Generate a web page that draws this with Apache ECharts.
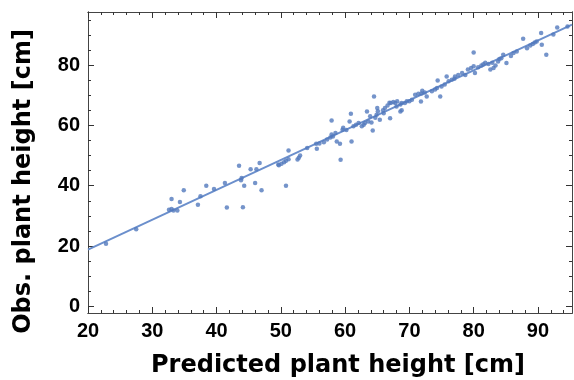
<!DOCTYPE html>
<html>
<head>
<meta charset="utf-8">
<script src="https://cdn.jsdelivr.net/npm/echarts@6/dist/echarts.min.js"></script>
<style>
  html, body { margin: 0; padding: 0; background: #fff; }
  #chart { width: 574px; height: 380px; }
</style>
</head>
<body>
<div id="chart"></div>
<script>
const predicted = [
  22.8, 27.5, 32.6, 33.0, 33.3, 33.9, 33.0, 34.3, 34.9, 37.1, 37.5, 38.4, 39.6,
  41.3, 41.6, 43.5, 43.8, 43.9, 44.1, 44.3, 45.3, 46.0, 46.2, 46.7, 47.0,
  49.6, 49.7, 50.1, 50.5, 50.8, 51.2, 50.8, 51.2, 52.6, 52.8, 53.0, 54.1,
  55.5, 55.6, 56.0, 56.7, 57.2, 57.7, 57.9, 58.1, 57.9, 58.5, 58.7, 59.2, 59.3,
  59.6, 59.7, 60.2, 60.7, 60.9, 61.0, 61.3, 61.7, 62.1, 62.6, 62.9, 63.1,
  63.4, 63.6, 63.9, 64.1, 64.3, 64.5, 64.7, 64.9, 65.1, 65.0, 65.4,
  65.9, 66.0, 66.2, 66.6, 66.9, 67.0, 67.1, 67.5, 67.8, 68.0, 68.6,
  68.8, 69.3, 69.6, 68.1, 68.6, 68.8, 70.0, 70.4, 70.9, 71.4, 71.9, 72.4,
  71.8, 72.0, 72.7, 73.5, 74.0, 74.3, 74.4, 74.8, 75.0, 75.5, 76.1, 75.8,
  76.6, 77.0, 77.1, 77.6, 78.2, 78.7, 79.1, 79.6, 80.0, 80.0, 80.2,
  80.7, 81.2, 81.5, 81.8, 82.3, 82.9, 83.4, 82.6, 83.1, 83.8, 84.0, 84.3, 84.6,
  85.1, 85.8, 86.2, 86.7, 87.7, 88.3, 88.8, 89.2, 89.5, 89.8, 90.5, 90.6,
  91.3, 92.4, 93.0, 94.6
];
const observed = [
  20.8, 25.6, 32.0, 32.3, 31.8, 31.8, 35.6, 34.6, 38.5, 33.7, 36.5, 40.0, 38.9,
  40.9, 32.8, 46.6, 41.8, 42.6, 32.9, 40.0, 45.5, 40.9, 45.5, 47.5, 38.5,
  47.0, 46.8, 47.3, 47.8, 48.3, 48.8, 40.0, 51.7, 48.7, 49.3, 50.0, 52.5,
  53.9, 52.3, 54.0, 54.4, 55.3, 56.0, 57.0, 56.3, 61.6, 57.5, 54.7, 53.9, 48.6,
  58.6, 59.2, 58.5, 61.3, 63.9, 54.7, 59.7, 60.2, 60.8, 59.7, 60.2, 60.8,
  64.6, 61.3, 63.0, 61.0, 58.3, 69.6, 62.5, 63.5, 64.7, 65.8, 61.9,
  65.0, 64.0, 65.8, 66.6, 67.5, 62.4, 67.4, 67.8, 67.4, 66.3, 64.6,
  67.4, 67.4, 68.0, 68.0, 66.9, 65.0, 68.0, 68.5, 70.2, 70.5, 70.6, 70.9,
  67.9, 71.5, 69.6, 71.3, 71.9, 72.4, 74.9, 69.6, 72.9, 73.6, 74.6, 76.2,
  75.1, 75.5, 76.2, 76.7, 77.4, 76.7, 78.5, 79.0, 79.6, 84.2, 77.4,
  79.3, 79.9, 80.3, 80.8, 80.4, 80.8, 79.9, 78.5, 79.0, 81.2, 82.0, 82.3, 83.4,
  80.7, 83.0, 84.0, 84.5, 88.7, 85.6, 86.5, 87.0, 87.5, 87.8, 90.6, 86.7,
  83.4, 90.1, 92.5, 92.8
];
// fitted line end points
const fitX = [20, 95.3];
const fitY = [18.8, 93.4];

const xMajor = [20, 30, 40, 50, 60, 70, 80, 90];
const yMajor = [0, 20, 40, 60, 80];
const xMinor = [22, 24, 26, 28, 32, 34, 36, 38, 42, 44, 46, 48, 52, 54, 56, 58,
  62, 64, 66, 68, 72, 74, 76, 78, 82, 84, 86, 88, 92, 94];
const yMinor = [5, 10, 15, 25, 30, 35, 45, 50, 55, 65, 70, 75, 85, 90, 95];

const chart = echarts.init(document.getElementById('chart'));

const tickColor = '#333';
const labelStyle = {
  color: '#000',
  fontFamily: 'Liberation Sans',
  fontWeight: 'bold',
  fontSize: 20
};
const titleStyle = {
  color: '#000',
  fontFamily: 'DejaVu Sans',
  fontWeight: 'bold',
  fontSize: 24
};

function makeAxis(pos, min, max, ticks, len, labels, extra) {
  return Object.assign({
    type: 'value',
    position: pos,
    min: min,
    max: max,
    axisLine: { show: true, onZero: false, lineStyle: { color: '#444', width: 1 } },
    axisTick: { show: true, inside: true, length: len, customValues: ticks,
      lineStyle: { color: tickColor, width: 1 } },
    axisLabel: labels
      ? Object.assign({ show: true, customValues: ticks, margin: 8 }, labelStyle)
      : { show: false },
    splitLine: { show: false }
  }, extra || {});
}

const option = {
  animation: false,
  backgroundColor: '#fff',
  grid: { left: 88, right: 2, top: 12, bottom: 67, outerBoundsMode: 'none' },
  xAxis: [
    makeAxis('bottom', 20, 95.3, xMajor, 6, true, {
      name: 'Predicted plant height [cm]',
      nameLocation: 'middle',
      nameGap: 41,
      nameTextStyle: Object.assign({ padding: [0, 0, 0, 16] }, titleStyle)
    }),
    makeAxis('bottom', 20, 95.3, xMinor, 3, false),
    makeAxis('top', 20, 95.3, xMajor, 6, false),
    makeAxis('top', 20, 95.3, xMinor, 3, false)
  ],
  yAxis: [
    makeAxis('left', -2.2, 97.6, yMajor, 6, true, {
      name: 'Obs. plant height [cm]',
      nameLocation: 'middle',
      nameGap: 52,
      nameTextStyle: Object.assign({ padding: [0, 38, 0, 0] }, titleStyle)
    }),
    makeAxis('left', -2.2, 97.6, yMinor, 3, false),
    makeAxis('right', -2.2, 97.6, yMajor, 6, false),
    makeAxis('right', -2.2, 97.6, yMinor, 3, false)
  ],
  series: [
    {
      type: 'line',
      data: fitX.map((x, i) => [x, fitY[i]]),
      showSymbol: false,
      lineStyle: { color: '#6b8fcc', width: 2 },
      z: 2
    },
    {
      type: 'scatter',
      data: predicted.map((x, i) => [x, observed[i]]),
      symbolSize: 4.5,
      itemStyle: { color: '#5379bd' },
      z: 3
    }
  ]
};

chart.setOption(option);
</script>
</body>
</html>
